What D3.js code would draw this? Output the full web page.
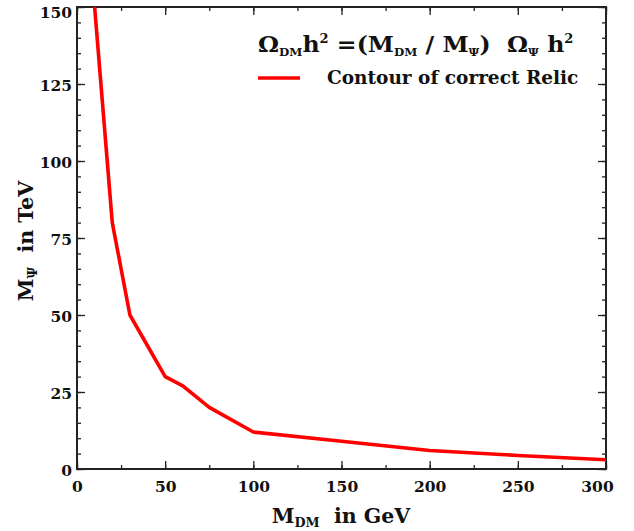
<!DOCTYPE html>
<html><head><meta charset="utf-8">
<script src="https://cdn.jsdelivr.net/npm/d3@7"></script>
<style>
body{margin:0;background:#fff;}
text{font-family:"DejaVu Serif",serif;font-weight:bold;fill:#111;}
</style></head>
<body><svg id="c" width="634" height="531"></svg>
<script>
const mdm = [10, 20, 30, 50, 60, 75, 100, 150, 200, 250, 300];
const mpsi = [150, 80, 50, 30, 27, 20, 12, 9, 6, 4.4, 3];
const xTicks = [0, 50, 100, 150, 200, 250, 300];
const yTicks = [0, 25, 50, 75, 100, 125, 150];
const xMinor = d3.range(0, 301, 25);
const yMinor = d3.range(0, 151, 5);

const W = 634, H = 531;
const m = {l: 77, t: 7, r: 28, b: 62};
const iw = W - m.l - m.r, ih = H - m.t - m.b;
const svg = d3.select("#c");
const g = svg.append("g").attr("transform", `translate(${m.l},${m.t})`);
const x = d3.scaleLinear().domain([0, 300]).range([0, iw]);
const y = d3.scaleLinear().domain([0, 150]).range([ih, 0]);

g.append("defs").append("clipPath").attr("id","clip").append("rect").attr("width", iw).attr("height", ih);

function styleAx(sel){
  sel.selectAll("path.domain").remove();
  sel.selectAll("line").attr("stroke","#222").attr("stroke-width",1.3);
  sel.selectAll("text").attr("font-size",15.5).attr("fill","#111");
}
// minor ticks
[[d3.axisBottom(x), `translate(0,${ih})`, xMinor],
 [d3.axisTop(x), null, xMinor],
 [d3.axisLeft(y), null, yMinor],
 [d3.axisRight(y), `translate(${iw},0)`, yMinor]].forEach(([ax, tr, vals]) => {
  const s = g.append("g").call(ax.tickValues(vals).tickSize(-4).tickFormat(""));
  if (tr) s.attr("transform", tr);
  styleAx(s);
});
// major ticks
const xb = g.append("g").attr("transform", `translate(0,${ih})`)
  .call(d3.axisBottom(x).tickValues(xTicks).tickSize(-8).tickPadding(12).tickFormat(d3.format("d")));
styleAx(xb);
xb.selectAll(".tick").filter(d => d === 300).select("text").attr("dx", -9);
const xt = g.append("g").call(d3.axisTop(x).tickValues(xTicks).tickSize(-8).tickFormat(""));
styleAx(xt);
const yl = g.append("g").call(d3.axisLeft(y).tickValues(yTicks).tickSize(-8).tickPadding(5).tickFormat(d3.format("d")));
styleAx(yl);
yl.selectAll(".tick text").attr("dy", "0.42em");
yl.selectAll(".tick").filter(d => d === 150).select("text").attr("dy", "0.65em");
const yr = g.append("g").attr("transform", `translate(${iw},0)`)
  .call(d3.axisRight(y).tickValues(yTicks).tickSize(-8).tickFormat(""));
styleAx(yr);

// frame
g.append("rect").attr("width", iw).attr("height", ih).attr("fill","none")
  .attr("stroke","#222").attr("stroke-width",2);

// curve
const pts = mdm.map((d,i)=>[d, mpsi[i]]);
g.append("path").datum(pts).attr("clip-path","url(#clip)")
  .attr("fill","none").attr("stroke","#ff0000").attr("stroke-width",3.6).attr("stroke-linejoin","round")
  .attr("d", d3.line().x(d=>x(d[0])).y(d=>y(d[1])));

// rich text helper
function rich(t, parts, size, subScale, supScale){
  let cur = 0;
  parts.forEach(p => {
    const [txt, kind] = p;
    const target = kind === "sub" ? size*0.2 : kind === "sup" ? -size*0.42 : 0;
    const fs = kind === "sub" ? size*subScale : kind === "sup" ? size*supScale : size;
    t.append("tspan").attr("dy", target - cur).attr("font-size", fs).text(txt);
    cur = target;
  });
}

// axis titles
const xtT = svg.append("text").attr("x", 341).attr("y", 523).attr("text-anchor","middle");
rich(xtT, [["M"],["DM","sub"],["\u00a0 in GeV"]], 20.5, 0.62, 0.6);
const ytT = svg.append("text").attr("transform","translate(33,241) rotate(-90)").attr("text-anchor","middle");
rich(ytT, [["M"],["\u03a8","sub"],["\u00a0 in TeV"]], 20.5, 0.62, 0.6);

// legend title
const lt = svg.append("text").attr("transform", "translate(258,52) scale(1.075,1)");
rich(lt, [["\u03a9"],["DM","sub"],["h"],["2","sup"],[" =(M"],["DM","sub"],[" / M"],["\u03a8","sub"],[")\u00a0 \u03a9"],["\u03a8","sub"],[" h"],["2","sup"]], 22, 0.5, 0.55);

svg.append("line").attr("x1",258).attr("x2",300).attr("y1",78).attr("y2",78)
  .attr("stroke","#ff0000").attr("stroke-width",3.5);
svg.append("text").attr("x",327).attr("y",84).attr("font-size",18.5).text("Contour of correct Relic");
</script></body></html>
